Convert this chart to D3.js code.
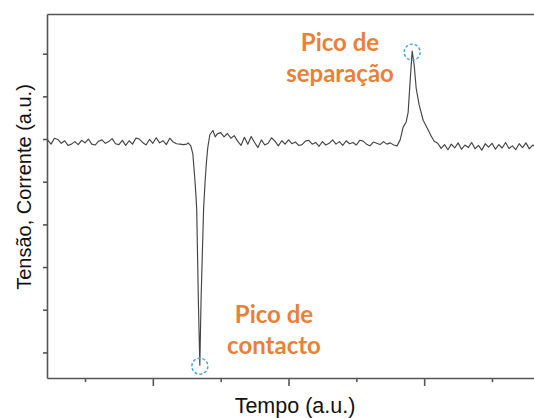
<!DOCTYPE html>
<html lang="en">
<head>
<meta charset="UTF-8">
<title>Pico de contacto / separação</title>
<script src="https://d3js.org/d3.v7.min.js"></script>
<style>
  body { margin: 0; background: #fff; }
</style>
</head>
<body>
<script>
const noiseStep = 0.5;
const noiseStart1 = 4.5;
const noise1 = [-0.02, -0.12, 0.02, -0.01, -0.10, -0.04, -0.15, -0.12, -0.06, -0.13,
  -0.03, -0.09, 0.00, -0.12, -0.14, -0.05, -0.02, -0.10, -0.06, 0.01,
  -0.11, -0.13, -0.03, -0.15, -0.04, -0.12, 0.02, 0.00, -0.08, -0.14,
  -0.01, -0.10, 0.03, -0.09, -0.04, -0.13, 0.02, -0.07, -0.11, -0.12,
  -0.13, -0.12];

// contact peak (negative spike)
const dipTime = [25.2, 25.6, 25.9, 26.15, 26.35, 26.47, 26.71, 26.93, 27.11, 27.48, 27.7, 27.9, 28.1, 28.4, 28.85, 29.2];
const dipValue = [-0.09, -0.16, -0.35, -0.85, -1.3, -1.66, -3.77, -5.3, -3.77, -1.66, -1.0, -0.55, -0.2, 0.1, 0.2, 0.05];

const noiseStart2 = 29.5;
const noise2 = [0.12, 0.15, 0.05, 0.13, 0.02, 0.08, -0.05, -0.15, 0.04, -0.12,
  0.06, -0.08, -0.20, -0.02, -0.14, -0.10, 0.03, -0.05, -0.16, -0.04,
  -0.12, -0.02, -0.11, -0.07, -0.15, -0.13, -0.05, -0.03, -0.12, -0.08,
  -0.17, -0.06, -0.14, -0.10, -0.02, -0.12, -0.06, -0.15, -0.04, -0.11,
  -0.08, -0.14, -0.03, -0.05, -0.12, -0.16, -0.07, -0.10, -0.13, -0.06,
  -0.12, -0.09, -0.14];

// separation peak (positive spike)
const peakTime = [56.0, 56.46, 56.9, 57.35, 57.64, 57.94, 58.23, 58.53, 58.82, 59.26, 59.85, 60.44, 61.03, 61.47];
const peakValue = [-0.16, -0.02, 0.28, 0.40, 0.63, 1.38, 2.06, 1.73, 1.19, 0.80, 0.44, 0.26, 0.07, -0.05];

const noiseStart3 = 62;
const noise3 = [-0.10, -0.22, -0.13, -0.25, -0.12, -0.21, -0.09, -0.24, -0.14, -0.20,
  -0.08, -0.23, -0.15, -0.26, -0.11, -0.19, -0.10, -0.24, -0.13, -0.21,
  -0.08, -0.22, -0.16, -0.25, -0.11, -0.20, -0.09, -0.23, -0.14, -0.19,
  -0.12];

const yTicks = [2, 1, 0, -1, -2, -3, -4, -5];
const xMajorTicks = [20, 40, 60];
const xMinorTicks = [10, 30, 50, 70];

const xLabel = 'Tempo (a.u.)';
const yLabel = 'Tensão, Corrente (a.u.)';
const contactLabel = ['Pico de', 'contacto'];
const separationLabel = ['Pico de', 'separação'];

const width = 534, height = 418;
const axisColor = '#555';
const orange = '#EB7F36';
const blue = '#4AA8DE';

const x = d3.scaleLinear().domain([4.4, 77]).range([47, 539.5]);
const y = d3.scaleLinear().domain([-5.6, 2.93]).range([378, 14]);

// put the pieces together in time order
const points = [];
noise1.forEach((v, i) => points.push([noiseStart1 + i * noiseStep, v]));
dipTime.forEach((t, i) => points.push([t, dipValue[i]]));
noise2.forEach((v, i) => points.push([noiseStart2 + i * noiseStep, v]));
peakTime.forEach((t, i) => points.push([t, peakValue[i]]));
noise3.forEach((v, i) => points.push([noiseStart3 + i * noiseStep, v]));

const svg = d3.select('body').append('svg')
  .attr('width', width).attr('height', height)
  .style('display', 'block');

// axes (no tick labels, like the original)
svg.append('g')
  .attr('transform', 'translate(47,0)')
  .call(d3.axisLeft(y).tickValues(yTicks).tickSize(4).tickSizeOuter(0).tickFormat(''));

svg.append('g')
  .attr('transform', 'translate(0,378)')
  .call(d3.axisBottom(x).tickValues(xMajorTicks).tickSize(8).tickSizeOuter(0).tickFormat(''));

svg.append('g')
  .attr('transform', 'translate(0,378)')
  .call(d3.axisBottom(x).tickValues(xMinorTicks).tickSize(4).tickSizeOuter(0).tickFormat(''))
  .select('.domain').remove();

svg.append('g')
  .attr('transform', 'translate(0,14)')
  .call(d3.axisTop(x).tickValues([]).tickSizeOuter(0));

svg.selectAll('.domain, .tick line')
  .attr('stroke', axisColor)
  .attr('stroke-width', 1.6);

// signal
const line = d3.line().x(d => x(d[0])).y(d => y(d[1]));
svg.append('path')
  .datum(points)
  .attr('d', line)
  .attr('fill', 'none')
  .attr('stroke', '#444')
  .attr('stroke-width', 1.15)
  .attr('stroke-linejoin', 'round');

// dashed circles on the two peaks
const lowest = d3.least(points, d => d[1]);
const highest = d3.greatest(points, d => d[1]);
svg.selectAll('circle.mark')
  .data([lowest, highest])
  .join('circle')
  .attr('class', 'mark')
  .attr('cx', d => x(d[0]))
  .attr('cy', d => y(d[1]) + 1)
  .attr('r', 8)
  .attr('fill', 'none')
  .attr('stroke', blue)
  .attr('stroke-width', 1.5)
  .attr('stroke-dasharray', '3,2');

// annotations
function annotate(lines, cx, baseline) {
  svg.append('text')
    .attr('text-anchor', 'middle')
    .attr('font-family', 'Lato, sans-serif')
    .attr('font-weight', 'bold')
    .attr('font-size', 24)
    .attr('fill', orange)
    .selectAll('tspan')
    .data(lines)
    .join('tspan')
    .attr('x', cx)
    .attr('y', (d, i) => baseline + i * 31)
    .text(d => d);
}
annotate(separationLabel, 340, 51);
annotate(contactLabel, 274, 323);

// axis titles
svg.append('text')
  .attr('x', 295).attr('y', 413)
  .attr('text-anchor', 'middle')
  .attr('font-family', '"Liberation Sans", Arial, sans-serif')
  .attr('font-size', 21.5)
  .attr('fill', '#111')
  .text(xLabel);

svg.append('text')
  .attr('transform', 'translate(31,187) rotate(-90)')
  .attr('text-anchor', 'middle')
  .attr('font-family', '"Liberation Sans", Arial, sans-serif')
  .attr('font-size', 20)
  .attr('fill', '#111')
  .text(yLabel);
</script>
</body>
</html>
